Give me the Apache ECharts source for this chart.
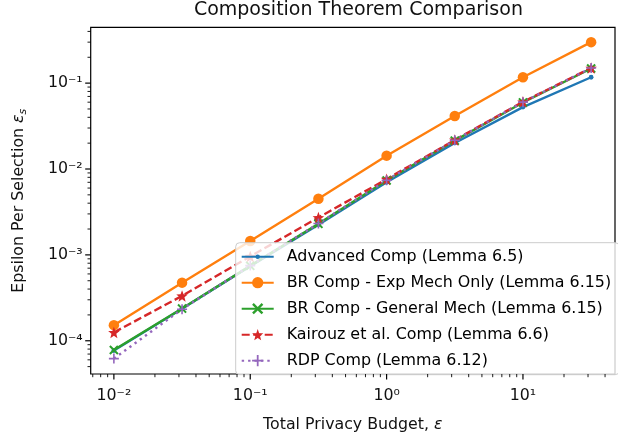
<!DOCTYPE html>
<html>
<head>
<meta charset="utf-8">
<script src="https://cdn.jsdelivr.net/npm/echarts@6/dist/echarts.min.js"></script>
<style>
html, body { margin: 0; padding: 0; background: #fff; }
#chart { width: 618px; height: 438px; }
</style>
</head>
<body>
<div id="chart"></div>
<script>
// total privacy budget (x) and epsilon per selection for each composition bound
const budgets = [0.01, 0.03162, 0.1, 0.3162, 1, 3.162, 10, 31.62];
const advancedComp = [7.7e-5, 2.36e-4, 7.4e-4, 2.25e-3, 7.0e-3, 0.0201, 0.0526, 0.117];
const expMechOnly = [1.52e-4, 4.75e-4, 1.45e-3, 4.5e-3, 0.0143, 0.0415, 0.117, 0.30];
const generalMech = [7.8e-5, 2.37e-4, 7.45e-4, 2.3e-3, 7.35e-3, 0.0214, 0.0596, 0.148];
const kairouzComp = [1.25e-4, 3.33e-4, 9.6e-4, 2.72e-3, 7.6e-3, 0.0218, 0.0605, 0.150];
const rdpComp = [6.2e-5, 2.33e-4, 7.5e-4, 2.32e-3, 7.4e-3, 0.0216, 0.0600, 0.150];

const seriesNames = [
    'Advanced Comp (Lemma 6.5)',
    'BR Comp - Exp Mech Only (Lemma 6.15)',
    'BR Comp - General Mech (Lemma 6.15)',
    'Kairouz et al. Comp (Lemma 6.6)',
    'RDP Comp (Lemma 6.12)'
];

const xMajor = [0.01, 0.1, 1, 10];
const yMajor = [1e-4, 1e-3, 1e-2, 1e-1];
const xTickLabels = ['10⁻²', '10⁻¹', '10⁰', '10¹'];
const yTickLabels = ['10⁻⁴', '10⁻³', '10⁻²', '10⁻¹'];

// axis limits (log10 space)
const X_MIN = Math.pow(10, -2.17), X_MAX = Math.pow(10, 1.675);
const Y_MIN = Math.pow(10, -4.387), Y_MAX = Math.pow(10, -0.35);

function minorValues(lo, hi) {
    let out = [];
    for (let e = -6; e <= 3; e++) {
        for (let m = 2; m <= 9; m++) {
            let v = m * Math.pow(10, e);
            if (v > lo && v < hi) out.push(v);
        }
    }
    return out;
}

function starPath() {
    let s = '';
    for (let i = 0; i < 10; i++) {
        let r = i % 2 ? 2.1 : 5;
        let a = -Math.PI / 2 + i * Math.PI / 5;
        s += (i ? 'L' : 'M') + (5 + r * Math.cos(a)).toFixed(2) + ',' + (5 + r * Math.sin(a)).toFixed(2);
    }
    return 'path://' + s + 'Z';
}

const dotSymbol = 'path://M0,0M12,12M6,3.6A2.4,2.4 0 1,1 6,8.4A2.4,2.4 0 1,1 6,3.6Z';
const xSymbol = 'path://M0,1.5L1.5,0L5,3.5L8.5,0L10,1.5L6.5,5L10,8.5L8.5,10L5,6.5L1.5,10L0,8.5L3.5,5Z';
const plusSymbol = 'path://M4.2,0H5.8V4.2H10V5.8H5.8V10H4.2V5.8H0V4.2H4.2Z';

function pairs(ys) {
    return budgets.map((x, i) => [x, ys[i]]);
}

function tickSeries(axis, values, len, width) {
    return {
        type: 'custom',
        silent: true,
        z: 5,
        data: values.map(v => axis === 'x' ? [v, Y_MIN] : [X_MIN, v]),
        renderItem: function (params, api) {
            let p = api.coord([api.value(0), api.value(1)]);
            let cs = params.coordSys;
            let shape = axis === 'x'
                ? {x1: p[0], y1: cs.y + cs.height, x2: p[0], y2: cs.y + cs.height + len}
                : {x1: cs.x, y1: p[1], x2: cs.x - len, y2: p[1]};
            return {type: 'line', shape: shape, style: {stroke: '#000', lineWidth: width}};
        }
    };
}

function lineSeries(name, ys, color, symbol, size, lineType) {
    return {
        name: name,
        type: 'line',
        data: pairs(ys),
        symbol: symbol,
        symbolSize: size,
        showAllSymbol: true,
        lineStyle: {color: color, width: 2.4, type: lineType || 'solid'},
        itemStyle: {color: color},
        emphasis: {disabled: true}
    };
}

let chart = echarts.init(document.getElementById('chart'));

let option = {
    animation: false,
    backgroundColor: '#fff',
    textStyle: {fontFamily: 'DejaVu Sans'},
    title: {
        text: 'Composition Theorem Comparison',
        left: 358.4,
        top: 1,
        textAlign: 'center',
        padding: 0,
        textStyle: {fontFamily: 'DejaVu Sans', fontSize: 19, fontWeight: 'normal', color: '#111'}
    },
    grid: {
        left: 90.7,
        top: 27.3,
        right: -8,
        bottom: 63,
        show: true,
        borderColor: '#000',
        borderWidth: 1.2,
        backgroundColor: 'transparent'
    },
    legend: {
        data: seriesNames,
        orient: 'vertical',
        left: 235.7,
        top: 242.7,
        itemWidth: 32,
        itemHeight: 14,
        itemGap: 10,
        padding: [6, 8, 6, 5],
        backgroundColor: 'rgba(255,255,255,0.8)',
        borderColor: '#cccccc',
        borderWidth: 1,
        borderRadius: 4,
        selectedMode: false,
        textStyle: {fontFamily: 'DejaVu Sans', fontSize: 15.9, color: '#000', padding: [0, 0, 0, 8]}
    },
    xAxis: {
        type: 'log',
        logBase: 10,
        min: X_MIN,
        max: X_MAX,
        name: 'Total Privacy Budget, {e|ε}',
        nameLocation: 'middle',
        nameGap: 43,
        nameTextStyle: {
            fontFamily: 'DejaVu Sans', fontSize: 15.8, color: '#111',
            rich: {e: {fontFamily: 'DejaVu Sans', fontSize: 15.8, fontStyle: 'italic', color: '#111'}}
        },
        axisLine: {show: false},
        axisTick: {show: false},
        splitLine: {show: false},
        axisLabel: {
            fontFamily: 'DejaVu Sans',
            fontSize: 15.8,
            color: '#111',
            margin: 14,
            showMinLabel: true,
            showMaxLabel: true,
            formatter: function (v) {
                let i = xMajor.findIndex(m => Math.abs(Math.log10(v) - Math.log10(m)) < 1e-6);
                return i < 0 ? '' : xTickLabels[i];
            }
        }
    },
    yAxis: {
        type: 'log',
        logBase: 10,
        min: Y_MIN,
        max: Y_MAX,
        name: 'Epsilon Per Selection {e|ε}{s|s}',
        nameLocation: 'middle',
        nameGap: 62,
        nameTextStyle: {
            fontFamily: 'DejaVu Sans', fontSize: 15.8, color: '#111',
            rich: {
                e: {fontFamily: 'DejaVu Sans', fontSize: 15.8, fontStyle: 'italic', color: '#111'},
                s: {fontFamily: 'DejaVu Sans', fontSize: 11, fontStyle: 'italic', color: '#111', padding: [8, 0, 0, 0]}
            }
        },
        axisLine: {show: false},
        axisTick: {show: false},
        splitLine: {show: false},
        axisLabel: {
            fontFamily: 'DejaVu Sans',
            fontSize: 15.8,
            color: '#111',
            margin: 8,
            padding: [6, 0, 0, 0],
            formatter: function (v) {
                let i = yMajor.findIndex(m => Math.abs(Math.log10(v) - Math.log10(m)) < 1e-6);
                return i < 0 ? '' : yTickLabels[i];
            }
        }
    },
    series: [
        lineSeries(seriesNames[0], advancedComp, '#1f77b4', dotSymbol, 12),
        lineSeries(seriesNames[1], expMechOnly, '#ff7f0e', 'circle', 10.5),
        lineSeries(seriesNames[2], generalMech, '#2ca02c', xSymbol, 9.5),
        lineSeries(seriesNames[3], kairouzComp, '#d62728', starPath(), 11.5, [8, 3.5]),
        lineSeries(seriesNames[4], rdpComp, '#9467bd', plusSymbol, 10, [2.4, 4]),
        tickSeries('x', xMajor, 5.5, 1.2),
        tickSeries('x', minorValues(X_MIN, X_MAX), 3.2, 0.9),
        tickSeries('y', yMajor, 5.5, 1.2),
        tickSeries('y', minorValues(Y_MIN, Y_MAX), 3.2, 0.9)
    ]
};

chart.setOption(option);
</script>
</body>
</html>
